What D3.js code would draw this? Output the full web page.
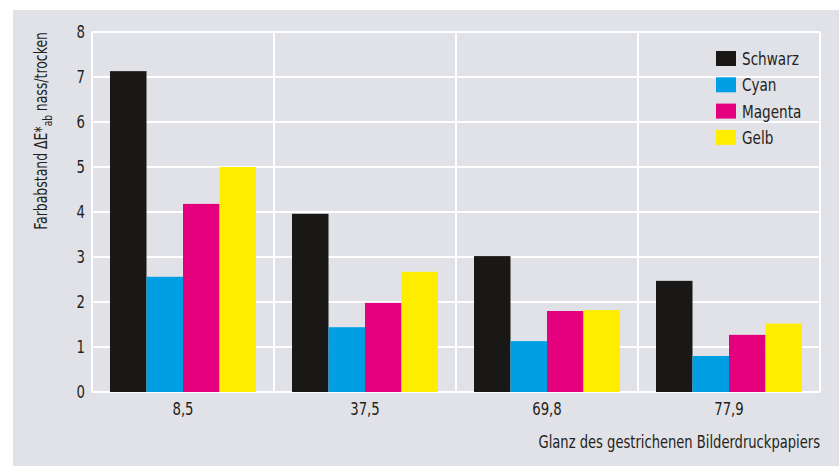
<!DOCTYPE html>
<html><head><meta charset="utf-8">
<script src="https://cdn.jsdelivr.net/npm/d3@7"></script>
<style>
html,body{margin:0;padding:0;background:#fff;}
text{font-family:"DejaVu Sans Condensed","DejaVu Sans",sans-serif;font-stretch:condensed;fill:#231f20;}
</style></head>
<body><svg id="c" width="839" height="466"></svg>
<script>
const categories = ["8,5","37,5","69,8","77,9"];
const seriesNames = ["Schwarz","Cyan","Magenta","Gelb"];
const schwarz = [7.13, 3.96, 3.02, 2.47];
const cyan    = [2.56, 1.44, 1.13, 0.80];
const magenta = [4.18, 1.98, 1.80, 1.27];
const gelb    = [5.00, 2.67, 1.82, 1.52];
const yTicks = [0,1,2,3,4,5,6,7,8];
const colors = ["#1a1816","#009fe3","#e5007d","#ffed00"];
const seriesValues = [schwarz, cyan, magenta, gelb];

const svg = d3.select("#c");
svg.append("rect").attr("x",13).attr("y",10).attr("width",826).attr("height",456).attr("fill","#e1e2e7");

const m = {l:92, r:820, t:32, b:392};
const x = d3.scaleBand().domain(categories).range([m.l, m.r]).padding(0);
const inner = d3.scaleBand().domain(seriesNames).range([18, x.bandwidth()-18]).padding(0);
const y = d3.scaleLinear().domain([0,8]).range([m.b, m.t]);

// gridlines
const g = svg.append("g");
g.selectAll("line.h").data(yTicks).enter().append("line")
  .attr("x1", m.l).attr("x2", m.r).attr("y1", d=>y(d)).attr("y2", d=>y(d))
  .attr("stroke","#fff").attr("stroke-width",2);
const vb = categories.map(c=>x(c)).concat([m.r]);
g.selectAll("line.v").data(vb).enter().append("line")
  .attr("x1", d=>d).attr("x2", d=>d).attr("y1", m.t).attr("y2", m.b)
  .attr("stroke","#fff").attr("stroke-width",2);

// bars
const data = [];
categories.forEach((c,i)=>seriesNames.forEach((s,j)=>data.push({c,s,v:seriesValues[j][i],j})));
svg.append("g").selectAll("rect").data(data).enter().append("rect")
  .attr("x", d=>x(d.c)+inner(d.s)).attr("width", inner.bandwidth())
  .attr("y", d=>y(d.v)).attr("height", d=>y(0)-y(d.v))
  .attr("fill", d=>colors[d.j]);

// y axis labels
svg.append("g").selectAll("text").data(yTicks).enter().append("text")
  .attr("transform", d=>`translate(${m.l-7},${y(d)}) scale(0.82,1)`)
  .attr("text-anchor","end").attr("dy","0.36em").attr("font-size",18)
  .text(d3.format("d"));

// x axis labels
svg.append("g").selectAll("text").data(categories).enter().append("text")
  .attr("transform", d=>`translate(${x(d)+x.bandwidth()/2},${m.b+10}) scale(0.82,1)`)
  .attr("text-anchor","middle").attr("dy","0.71em").attr("font-size",18)
  .text(d=>d);

// x title
svg.append("text").attr("transform",`translate(${m.r},448) scale(0.81,1)`)
  .attr("text-anchor","end").attr("font-size",18)
  .text("Glanz des gestrichenen Bilderdruckpapiers");

// y title
const yt = svg.append("text").attr("transform","translate(47,32) rotate(-90) scale(0.77,1)")
  .attr("text-anchor","end").attr("font-size",18);
yt.append("tspan").text("Farbabstand ΔE*");
yt.append("tspan").attr("font-size",13).attr("dy",5).text("ab");
yt.append("tspan").attr("dy",-5).text(" nass/trocken");

// legend
const lg = svg.append("g").selectAll("g").data(seriesNames).enter().append("g")
  .attr("transform",(d,i)=>`translate(716,${51+i*26.3})`);
lg.append("rect").attr("width",20).attr("height",15).attr("fill",(d,i)=>colors[i]);
lg.append("text").attr("transform","translate(26,7.5) scale(0.84,1)")
  .attr("dy","0.36em").attr("font-size",18).text(d=>d);
</script></body></html>
